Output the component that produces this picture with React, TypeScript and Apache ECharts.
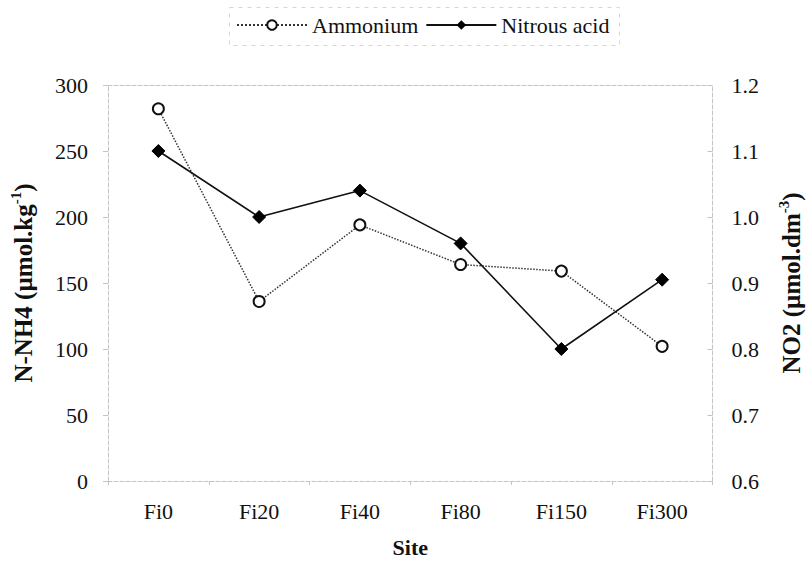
import React, { useEffect, useRef } from "react";
import * as echarts from "echarts";

const sites = ["Fi0", "Fi20", "Fi40", "Fi80", "Fi150", "Fi300"];
const ammonium = [282, 136, 194, 164, 159, 102];
const nitrousAcid = [1.1, 1.0, 1.04, 0.96, 0.8, 0.905];

const FONT = "'Liberation Serif', 'Times New Roman', serif";
const AXIS_GRAY = "#c4c4c4";

export default function App() {
  const ref = useRef<HTMLDivElement>(null);
  useEffect(() => {
    if (!ref.current) return;
    const chart = echarts.init(ref.current, undefined, { renderer: "svg" });
    const faintLine = { show: true, lineStyle: { color: AXIS_GRAY, width: 1, type: "dashed" as const } };
    const nameRich = {
      b: { fontFamily: FONT, fontSize: 25, fontWeight: "bold", color: "#111", lineHeight: 30 },
      s: { fontFamily: FONT, fontSize: 15, fontWeight: "bold", color: "#111", verticalAlign: "top", lineHeight: 30 },
    };
    chart.setOption({
      animation: false,
      backgroundColor: "#ffffff",
      textStyle: { fontFamily: FONT, color: "#111" },
      legend: {
        left: 231,
        top: 9,
        itemWidth: 70,
        itemHeight: 12,
        itemGap: 7,
        textStyle: { fontFamily: FONT, fontSize: 22, color: "#111" },
        data: ["Ammonium", "Nitrous acid"],
      },
      grid: { left: 107, right: 91, top: 85, bottom: 86, containLabel: false },
      xAxis: [
        {
          type: "category",
          data: sites,
          position: "bottom",
          boundaryGap: true,
          axisLine: faintLine,
          axisTick: { show: true, length: 4, lineStyle: { color: AXIS_GRAY } },
          axisLabel: { fontFamily: FONT, fontSize: 22, color: "#111", margin: 19 },
          name: "Site",
          nameLocation: "middle",
          nameGap: 55,
          nameTextStyle: { fontFamily: FONT, fontSize: 22, fontWeight: "bold", color: "#111" },
        },
        {
          type: "category",
          data: sites,
          position: "top",
          boundaryGap: true,
          axisLine: faintLine,
          axisTick: { show: false },
          axisLabel: { show: false },
        },
      ],
      yAxis: [
        {
          type: "value",
          min: 0,
          max: 300,
          interval: 50,
          position: "left",
          axisLine: faintLine,
          axisTick: { show: true, length: 5, lineStyle: { color: AXIS_GRAY } },
          splitLine: { show: false },
          axisLabel: { fontFamily: FONT, fontSize: 22, color: "#111", margin: 20 },
          name: "{b|N-NH4 (µmol.kg}{s|-1}{b|)}",
          nameLocation: "middle",
          nameGap: 70,
          nameRotate: 90,
          nameTextStyle: { rich: nameRich },
        },
        {
          type: "value",
          min: 0.6,
          max: 1.2,
          interval: 0.1,
          position: "right",
          axisLine: faintLine,
          axisTick: { show: true, length: 5, inside: true, lineStyle: { color: AXIS_GRAY } },
          splitLine: { show: false },
          axisLabel: {
            fontFamily: FONT,
            fontSize: 22,
            color: "#111",
            margin: 19,
            formatter: (v: number) => v.toFixed(1),
          },
          name: "{b|NO2 (µmol.dm}{s|-3}{b|)}",
          nameLocation: "middle",
          nameGap: 64,
          nameRotate: 90,
          nameTextStyle: { rich: nameRich },
        },
      ],
      series: [
        {
          name: "Ammonium",
          type: "line",
          xAxisIndex: 0,
          yAxisIndex: 0,
          data: ammonium,
          symbol: "emptyCircle",
          symbolSize: 11,
          lineStyle: { color: "#333", width: 1.5, type: "dotted" },
          itemStyle: { color: "#111", borderColor: "#111", borderWidth: 1.5 },
        },
        {
          name: "Nitrous acid",
          type: "line",
          xAxisIndex: 0,
          yAxisIndex: 1,
          data: nitrousAcid,
          symbol: "diamond",
          symbolSize: 13,
          lineStyle: { color: "#111", width: 1.6, type: "solid" },
          itemStyle: { color: "#000", borderColor: "#000" },
        },
      ],
      graphic: [
        {
          type: "rect",
          left: 227,
          top: 5,
          shape: { width: 390, height: 38 },
          style: { fill: "none", stroke: "#d6d6d6", lineWidth: 1, lineDash: [4, 5] },
          silent: true,
        },
      ],
    });
    return () => chart.dispose();
  }, []);
  return (
    <div
      ref={ref}
      style={{ position: "fixed", left: 0, top: 0, width: 812, height: 567, background: "#fff" }}
    />
  );
}
